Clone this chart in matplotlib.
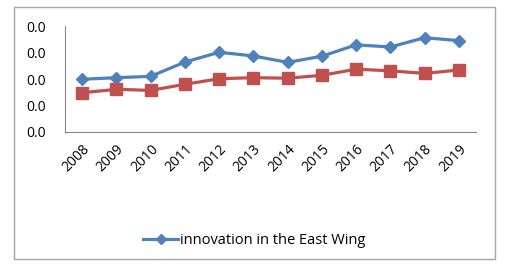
import matplotlib.pyplot as plt
from matplotlib.patches import Rectangle
from matplotlib.ticker import FormatStrFormatter

plt.rcParams['font.family'] = ['Open Sans', 'DejaVu Sans']

years = ['2008', '2009', '2010', '2011', '2012', '2013', '2014', '2015', '2016', '2017', '2018', '2019']
east_wing = [0.0199, 0.0205, 0.0210, 0.0264, 0.0301, 0.0287, 0.0263, 0.0286, 0.0329, 0.0321, 0.0356, 0.0345]
other = [0.0148, 0.0161, 0.0157, 0.0180, 0.0201, 0.0205, 0.0203, 0.0214, 0.0237, 0.0231, 0.0221, 0.0234]
legend_label = 'innovation in the East Wing'

fig = plt.figure(figsize=(5.08, 2.66), dpi=100)
ax = fig.add_axes([0.128, 0.504, 0.809, 0.398])

# outer chart border
fig.patches.append(Rectangle((14 / 508, 1 - 259 / 266), 481 / 508, 252 / 266,
                             transform=fig.transFigure, fill=False,
                             edgecolor='#a6a6a6', linewidth=1))

x = range(len(years))
ax.plot(x, east_wing, color='#4F81BD', linewidth=2.3, marker='D', markersize=6.5, label=legend_label)
ax.plot(x, other, color='#C0504D', linewidth=2.3, marker='s', markersize=8)

ax.set_xlim(-0.5, len(years) - 0.5)
ax.set_ylim(0, 0.04)
ax.set_yticks([0, 0.01, 0.02, 0.03, 0.04])
ax.yaxis.set_major_formatter(FormatStrFormatter('%.1f'))
ax.set_xticks(list(x))
ax.set_xticklabels(years, rotation=45, ha='right', rotation_mode='anchor')

for side in ['top', 'right']:
    ax.spines[side].set_visible(False)
for side in ['left', 'bottom']:
    ax.spines[side].set_color('#868686')
    ax.spines[side].set_linewidth(0.8)
ax.tick_params(axis='both', length=0, labelsize=10)
ax.tick_params(axis='y', pad=14)
ax.tick_params(axis='x', pad=7)

fig.legend(loc='center', bbox_to_anchor=(0.5, 1 - 241 / 266), frameon=False,
           fontsize=10.5, handlelength=2.4, handletextpad=0.1, markerscale=0.8)

fig.savefig('out.png', dpi=100)
